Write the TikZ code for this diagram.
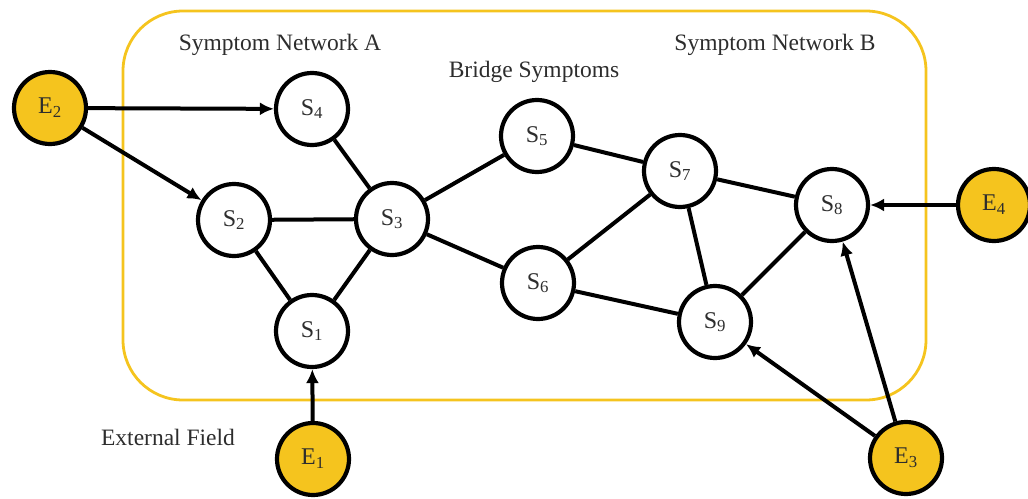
\documentclass[tikz,border=0pt]{standalone}
\usepackage{fontspec}
\setmainfont{Liberation Serif}
\usetikzlibrary{positioning}
\usetikzlibrary{arrows.meta}
\definecolor{fieldyellow}{RGB}{245,196,30}
\definecolor{labelgray}{RGB}{45,45,45}

\begin{document}
\begin{tikzpicture}[x=1pt,y=-1pt,
  symptom/.style={circle,draw=black,line width=4.2pt,fill=white,minimum size=72pt,inner sep=0pt,
    text=labelgray,font=\fontsize{24}{26}\selectfont},
  field/.style={symptom,fill=fieldyellow},
  caption/.style={anchor=base,text=labelgray,font=\fontsize{23.5}{26}\selectfont},
  link/.style={line width=4pt},
  push/.style={line width=4pt,-{Latex[length=14pt,width=13pt]}}]
\useasboundingbox (0,0) rectangle (1028,498);

%rahmen der netzwerke
\draw[fieldyellow,line width=2.8pt,rounded corners=60pt] (123,11) rectangle (926,400);

%ueberschriften
\node[caption] (netA) at (280,50) {Symptom Network A};
\node[caption] (bridge) at (534,77) {Bridge Symptoms};
\node[caption] (netB) at (775,50) {Symptom Network B};
\node[caption] (ext) at (168,445) {External Field};

%symptome
\foreach \n/\x/\y in {1/312/331,2/234/220,3/392/219,4/312/109,5/537/136,6/538/283,7/680/171,8/832/205,9/715/322}
  \node[symptom] (s\n) at (\x,\y) {S\textsubscript{\n}};

%externe felder
\foreach \n/\x/\y in {1/313/459,2/50/108,3/906/458,4/994/205}
  \node[field] (e\n) at (\x,\y) {E\textsubscript{\n}};

%kanten
\foreach \a/\b in {4/3,2/3,2/1,1/3,3/5,3/6,5/7,6/7,6/9,7/9,7/8,9/8}
  \draw[link] (s\a) -- (s\b);

%einfluss der felder
\draw[push] (e2) -- (s4);
\draw[push] (e2) -- (s2);
\draw[push] (e1) -- (s1);
\draw[push] (e4) -- (s8);
\draw[push] (e3) -- (s9);
\draw[push] (e3) -- (s8);

\end{tikzpicture}
\end{document}
